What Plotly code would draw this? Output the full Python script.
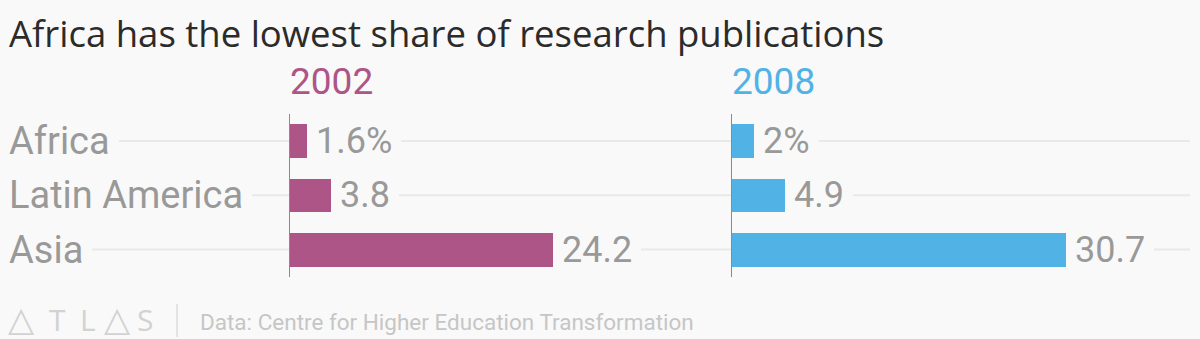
import plotly.graph_objects as go

# ---- data ----
categories = ["Africa", "Latin America", "Asia"]
years = ["2002", "2008"]
share_2002 = [1.6, 3.8, 24.2]
share_2008 = [2.0, 4.9, 30.7]
title_text = "Africa has the lowest share of research publications"
source_text = "Data: Centre for Higher Education Transformation"
logo_letters = ["△", "T", "L", "△", "S"]

# ---- style ----
W, H = 1200, 339
BG = "#f9f9f9"
COL = {"2002": "#ad5587", "2008": "#51b2e5"}
GRAY = "#999999"
FONT = "Roboto"
PXU = 10.88  # pixels per percentage point

def px(x):
    return x / W

def py(y):
    return 1 - y / H

x1_dom = [290, 590]
x2_dom = [732, 1132]

fig = go.Figure()
series = {"2002": share_2002, "2008": share_2008}
axes = {"2002": ("x", "y"), "2008": ("x2", "y2")}
for yr in years:
    xa, ya = axes[yr]
    fig.add_trace(go.Bar(
        x=series[yr], y=categories, orientation="h",
        marker=dict(color=COL[yr], line=dict(width=0)),
        width=0.615, xaxis=xa, yaxis=ya, hoverinfo="skip",
    ))

ydom = [py(276.75), py(113.75)]
common_y = dict(type="category", categoryorder="array", categoryarray=categories,
                range=[2.5, -0.5], showgrid=False, showticklabels=False,
                showline=True, linecolor="#8a8a8a", linewidth=1, ticks="",
                zeroline=False, domain=ydom, fixedrange=True)
fig.update_layout(
    width=W, height=H, margin=dict(l=0, r=0, t=0, b=0),
    paper_bgcolor=BG, plot_bgcolor="rgba(0,0,0,0)", showlegend=False,
    bargap=0,
    xaxis=dict(domain=[px(x1_dom[0]), px(x1_dom[1])],
               range=[0, (x1_dom[1] - x1_dom[0]) / PXU], visible=False, fixedrange=True),
    xaxis2=dict(domain=[px(x2_dom[0]), px(x2_dom[1])],
                range=[0, (x2_dom[1] - x2_dom[0]) / PXU], visible=False, fixedrange=True),
    yaxis=dict(anchor="x", **common_y),
    yaxis2=dict(anchor="x2", matches="y", **common_y),
)

shapes = []
# light horizontal guide lines across the chart
for i, c in enumerate(categories):
    shapes.append(dict(type="line", xref="paper", yref="y", x0=0, x1=px(1190),
                       y0=i, y1=i, line=dict(color="#e9e9e9", width=2), layer="below"))
# footer divider
shapes.append(dict(type="line", xref="paper", yref="paper", x0=px(177), x1=px(177),
                   y0=py(337), y1=py(304), line=dict(color="#cccccc", width=1)))
fig.update_layout(shapes=shapes)

ann = []
# title
ann.append(dict(text=title_text, xref="paper", yref="paper", x=px(7), y=py(33),
                xanchor="left", yanchor="middle", showarrow=False,
                font=dict(family="Open Sans", size=36.5, color="#2b2b2b")))
# year headers
for yr in years:
    xa, _ = axes[yr]
    ann.append(dict(text=yr, xref=xa, yref="paper", x=0, y=py(81),
                    xanchor="left", yanchor="middle", showarrow=False, xshift=-2,
                    font=dict(family=FONT, size=37, color=COL[yr])))
# category labels
for i, c in enumerate(categories):
    ann.append(dict(text=c, xref="paper", yref="y", x=0, y=i,
                    xanchor="left", yanchor="middle", showarrow=False,
                    bgcolor=BG, borderpad=9, borderwidth=0,
                    font=dict(family=FONT, size=38, color=GRAY)))
# value labels
for yr in years:
    xa, ya = axes[yr]
    for i, v in enumerate(series[yr]):
        t = f"{v:g}" + ("%" if i == 0 else "")
        ann.append(dict(text=t, xref=xa, yref=ya, x=v, y=i,
                        xanchor="left", yanchor="middle", showarrow=False,
                        bgcolor=BG, borderpad=9, borderwidth=0,
                        font=dict(family=FONT, size=36, color=GRAY)))
# footer logo
logo_x = [21, 57, 88, 117, 145]
for ch, lx in zip(logo_letters, logo_x):
    is_tri = ch == "△"
    ann.append(dict(text=ch, xref="paper", yref="paper", x=px(lx), y=py(319),
                    xanchor="center", yanchor="middle", showarrow=False,
                    borderpad=0, borderwidth=0,
                    font=dict(family="DejaVu Sans" if is_tri else "Open Sans",
                              size=34 if is_tri else 30, color="#d2d2d2")))
ann.append(dict(text=source_text, xref="paper", yref="paper", x=px(198), y=py(322),
                xanchor="left", yanchor="middle", showarrow=False,
                font=dict(family=FONT, size=22.5, color="#c6c6c6")))
fig.update_layout(annotations=ann)

fig.write_html("out.html", config={"displayModeBar": False})
